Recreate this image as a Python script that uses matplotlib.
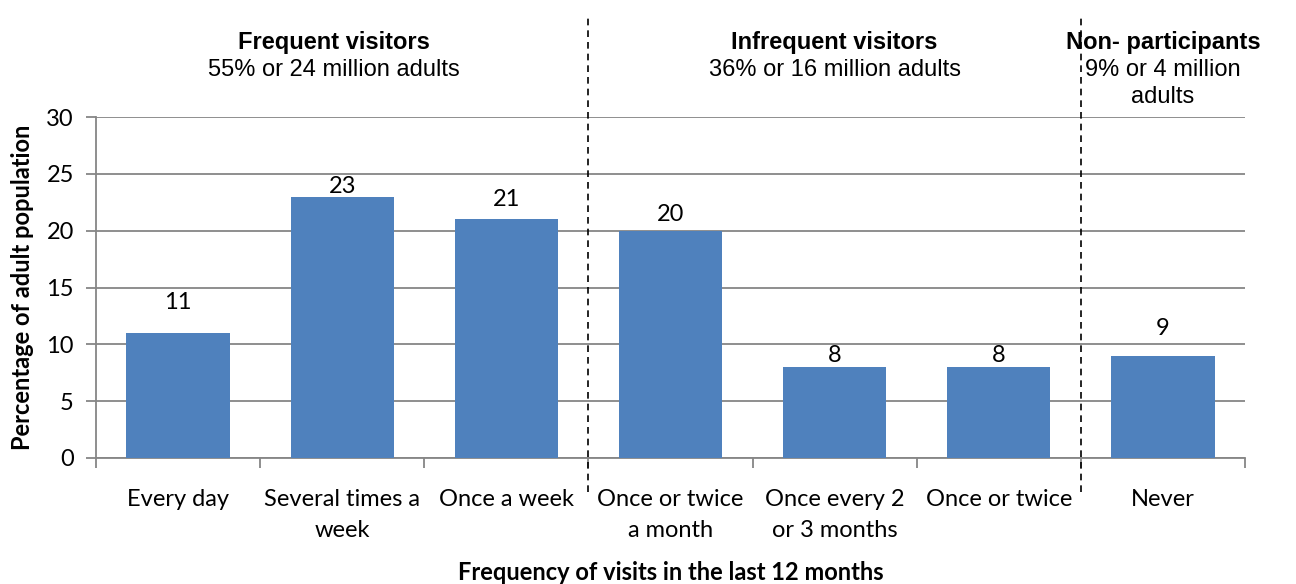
import matplotlib
matplotlib.use("Agg")
import matplotlib.pyplot as plt
from matplotlib.ticker import MultipleLocator, FixedLocator
import numpy as np

categories = ["Every day", "Several times a\nweek", "Once a week", "Once or twice\na month",
              "Once every 2\nor 3 months", "Once or twice", "Never"]
values = [11, 23, 21, 20, 8, 8, 9]
group_titles = ["Frequent visitors", "Infrequent visitors", "Non- participants"]
group_subtitles = [["55% or 24 million adults"], ["36% or 16 million adults"],
                   ["9% or 4 million", "adults"]]
group_boundaries = [2.5, 5.5]

BODY = ["Lato", "DejaVu Sans"]
HEAD = ["Liberation Sans", "DejaVu Sans"]
BAR = "#4F81BD"
GRID = "#868686"
FS = 17

fig = plt.figure(figsize=(12.96, 5.84), dpi=100)
ax = fig.add_axes([96/1296, 1-458/584, (1245-96)/1296, (458-117)/584])

x = np.arange(len(categories))
bars = ax.bar(x, values, width=0.63, color=BAR, zorder=3)

ax.set_xlim(-0.5, len(categories)-0.5)
ax.set_ylim(0, 30)
ax.yaxis.set_major_locator(MultipleLocator(5))
ax.grid(axis="y", color=GRID, linewidth=1.3, zorder=0)
ax.set_axisbelow(True)

for s in ["top", "right"]:
    ax.spines[s].set_visible(False)
for s in ["left", "bottom"]:
    ax.spines[s].set_color(GRID)
    ax.spines[s].set_linewidth(1.3)

ax.set_xticks(x)
ax.set_xticklabels(categories, fontsize=FS, family=BODY, linespacing=1.62)
ax.tick_params(axis="x", which="major", length=0, pad=22)
ax.xaxis.set_minor_locator(FixedLocator(np.arange(-0.5, len(categories), 1.0)))
ax.tick_params(axis="x", which="minor", length=7, color=GRID, width=1.3)
ax.tick_params(axis="y", length=7, color=GRID, width=1.3, pad=9)
for lab in ax.get_yticklabels():
    lab.set_fontsize(FS)
    lab.set_family(BODY)

ax.set_xlabel("Frequency of visits in the last 12 months", fontsize=FS, fontweight="bold",
              family=BODY)
ax.xaxis.set_label_coords(0.5, -(572-458)/341)
ax.xaxis.label.set_va("center")
ax.set_ylabel("Percentage of adult population", fontsize=FS, fontweight="bold", family=BODY)
ax.yaxis.set_label_coords(-(96-23)/1149, 0.5)
ax.yaxis.label.set_va("center")

# value labels (pixel offsets above bar tops, as in the original)
label_offsets = [30, 10, 20, 16, 12, 12, 27]
for xi, v, off in zip(x, values, label_offsets):
    ax.annotate(str(v), (xi, v), xytext=(0, off), textcoords="offset pixels",
                ha="center", va="center", fontsize=FS, family=BODY)

# dashed separators
for b in group_boundaries:
    ax.plot([b, b], [-(492-458)/341, (458-15)/341], transform=ax.get_xaxis_transform(),
            color="black", linestyle=(0, (4, 3)), linewidth=1.2, clip_on=False, zorder=5)

# group headers
centers = [0.95, 4.0, 6.0]
tr = ax.get_xaxis_transform()
for c, t, subs in zip(centers, group_titles, group_subtitles):
    ax.text(c, (458-42)/341, t, transform=tr, ha="center", va="center",
            fontsize=FS, fontweight="bold", family=HEAD)
    for i, st in enumerate(subs):
        ax.text(c, (458-70-27*i)/341, st, transform=tr, ha="center", va="center",
                fontsize=FS, family=HEAD)

fig.savefig("out.png", dpi=100)
